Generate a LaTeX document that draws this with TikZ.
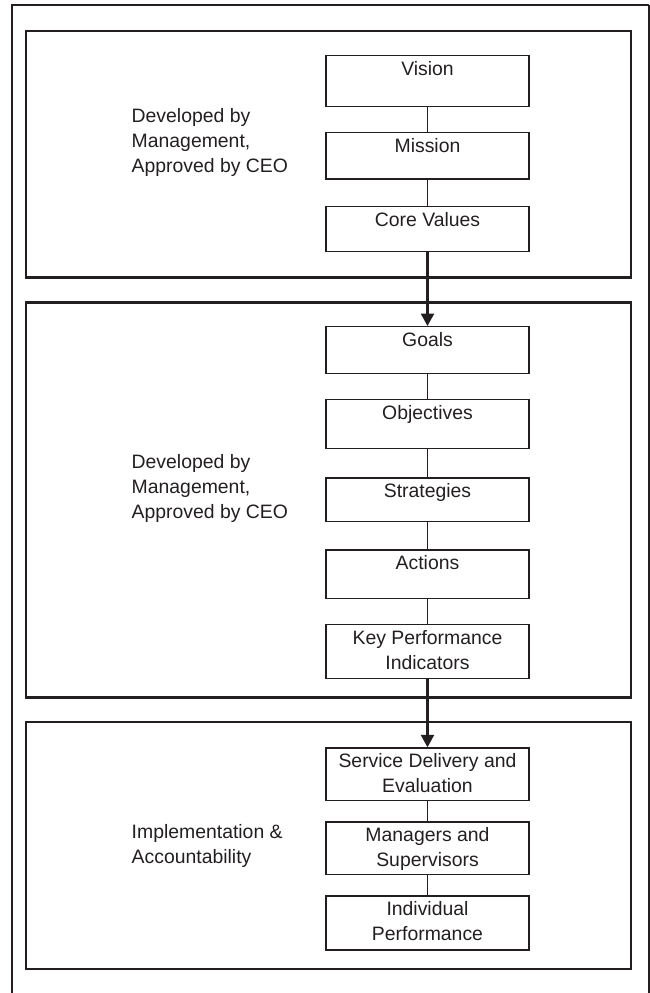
\documentclass[tikz,border=0pt]{standalone}
\usepackage{fontspec}
\setmainfont{Liberation Sans}
\usetikzlibrary{arrows.meta}
\definecolor{ink}{RGB}{35,31,32}

\begin{document}
\begin{tikzpicture}[x=1pt,y=-1pt,every node/.style={font=\fontsize{19.4}{25}\selectfont,text=ink},
    stagebox/.style={draw=ink,line width=1.3pt,minimum width=203pt,inner sep=0pt,text height=20pt,align=center,anchor=north},
    twoline/.style={stagebox,text height=45pt},
    note/.style={anchor=west,inner sep=0pt,align=left},
    panel/.style={draw=ink,line width=2.4pt},
    link/.style={draw=ink,line width=1.1pt},
    flow/.style={draw=ink,line width=2.6pt,-{Triangle[length=12.5pt,width=13pt]}}]
            \useasboundingbox (0,0) rectangle (650,993);
            % outer frame, open at the bottom
            \draw[ink,line width=2pt] (12,993) -- (12,5) -- (649,5);
            \draw[ink,line width=1.2pt] (649,5) -- (649,993);
            % the three panels
            \draw[panel] (26,31) rectangle (631,277.5);
            \draw[panel] (26,302.5) rectangle (631,697.5);
            \draw[panel] (26,722) rectangle (631,969);
            \node[note] (devA) at (131.5,142) {Developed by\\Management,\\Approved by CEO};
            \node[note] (devB) at (131.5,488) {Developed by\\Management,\\Approved by CEO};
            \node[note] (impl) at (131.5,845.5) {Implementation \&\\Accountability};
            \node[stagebox,text depth=31pt] (vision) at (427.5,54.7) {Vision};
            \node[stagebox,text depth=26.6pt] (mission) at (427.5,131.7) {Mission};
            \node[stagebox,text depth=25pt] (values) at (427.5,205.7) {Core Values};
            \node[stagebox,text depth=26.7pt] (goals) at (427.5,326) {Goals};
            \node[stagebox,text depth=29.3pt] (objectives) at (427.5,398.7) {Objectives};
            \node[stagebox,text depth=23.4pt] (strategies) at (427.5,477.3) {Strategies};
            \node[stagebox,text depth=28.4pt] (actions) at (427.5,549.3) {Actions};
            \node[twoline,text depth=8.7pt] (kpi) at (427.5,624) {Key Performance\\Indicators};
            \node[twoline,text depth=7.7pt] (service) at (427.5,747.3) {Service Delivery and\\Evaluation};
            \node[twoline,text depth=7.7pt] (managers) at (427.5,821.3) {Managers and\\Supervisors};
            \node[twoline,text depth=9pt] (individual) at (427.5,895.3) {Individual\\Performance};
            \draw[link] (vision) -- (mission);
            \draw[link] (mission) -- (values);
            \draw[flow] (values) -- (goals);
            \draw[link] (goals) -- (objectives);
            \draw[link] (objectives) -- (strategies);
            \draw[link] (strategies) -- (actions);
            \draw[link] (actions) -- (kpi);
            \draw[flow] (kpi) -- (service);
            \draw[link] (service) -- (managers);
            \draw[link] (managers) -- (individual);
        \end{tikzpicture}
\end{document}
